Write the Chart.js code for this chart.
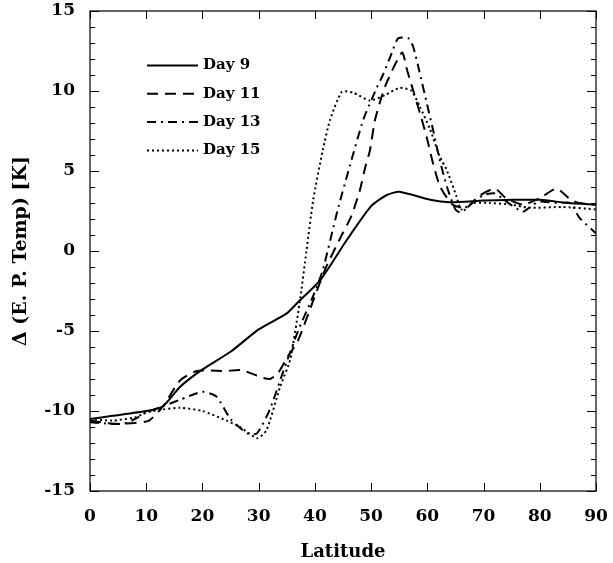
<!DOCTYPE html>
<html>
<head>
<meta charset="utf-8">
<script src="https://cdn.jsdelivr.net/npm/chart.js@4/dist/chart.umd.min.js"></script>
<style>
  body { margin: 0; background: #fff; }
</style>
</head>
<body>
<canvas id="chart" width="613" height="563"></canvas>
<script>
// data (latitude in degrees, delta temp in K)
var seriesNames = ["Day 9", "Day 11", "Day 13", "Day 15"];

var lat9  = [0, 4, 10, 13, 16, 20, 25, 30, 35, 37, 41, 45.7, 50, 52.8, 55, 60.5, 64, 70, 75, 80, 85, 90];
var temp9 = [-10.5, -10.3, -10.0, -9.7, -8.5, -7.4, -6.3, -4.9, -3.9, -3.2, -1.8, 0.7, 2.8, 3.5, 3.7, 3.2, 3.05, 3.15, 3.2, 3.2, 3.0, 2.9];

var lat11  = [0, 4, 8, 10.5, 13, 16, 19, 24, 27, 30.5, 32, 33.5, 35, 37, 39.7, 42, 44.5, 46.5, 48, 49, 49.8, 50.7, 52.5, 55.5, 56.4, 58.7, 59.9, 61, 62.3, 64.5, 67, 69, 72, 74, 77, 80, 83, 85.5, 87, 90];
var temp11 = [-10.6, -10.8, -10.75, -10.6, -9.7, -8.1, -7.5, -7.5, -7.45, -7.9, -8.0, -7.6, -6.7, -5.6, -3.1, -1.0, 0.8, 2.2, 3.8, 5.3, 6.3, 8.2, 10.3, 12.4, 11.3, 8.6, 7.1, 5.5, 4.0, 2.9, 2.7, 3.4, 3.9, 3.3, 2.9, 3.3, 3.9, 3.2, 3.0, 2.9];

var lat13  = [0, 3.6, 6, 8, 10, 13, 16, 20, 22.5, 25, 28, 29.7, 32, 34.3, 37, 39.7, 41.4, 44, 46.2, 48.6, 51, 52.1, 53.7, 54.8, 56.6, 57.5, 58.4, 59.9, 61, 62.2, 63.5, 65, 66, 68, 70, 72, 74, 77, 78.8, 80, 83, 85.5, 87, 90];
var temp13 = [-10.7, -10.8, -10.8, -10.5, -10.1, -9.7, -9.3, -8.8, -9.1, -10.5, -11.4, -11.4, -9.9, -7.6, -5.0, -2.8, -1.2, 2.5, 5.3, 8.2, 10.2, 11.0, 12.4, 13.3, 13.3, 12.75, 11.5, 9.25, 7.6, 5.7, 4.0, 2.6, 2.4, 3.0, 3.5, 3.6, 3.1, 2.45, 2.9, 3.1, 3.0, 3.0, 2.1, 1.1];

var lat15  = [0, 4, 8, 10, 13, 16, 20, 24.3, 26.7, 29.7, 31.4, 33.8, 35.6, 37.3, 38.5, 39.7, 41.4, 42.7, 44.8, 46.8, 49.8, 52.5, 55.1, 57.2, 58.7, 60.5, 62.2, 63.4, 65.2, 66, 68.2, 71, 75, 78, 84, 90];
var temp15 = [-10.5, -10.6, -10.4, -10.1, -9.9, -9.8, -10.0, -10.6, -11.0, -11.7, -11.2, -8.5, -6.8, -3.2, 0, 3.2, 6.3, 8.2, 9.95, 9.9, 9.4, 9.75, 10.2, 10.0, 9.0, 7.6, 5.9, 5.1, 3.4, 2.6, 3.0, 3.0, 2.9, 2.7, 2.75, 2.6];

var xTicks = [0, 10, 20, 30, 40, 50, 60, 70, 80, 90];

function toPoints(xs, ys) {
    var pts = [];
    for (var i = 0; i < xs.length; i++) {
        pts.push({x: xs[i], y: ys[i]});
    }
    return pts;
}

var serif = "'DejaVu Serif', 'Liberation Serif', serif";
var dashes = [[], [11, 7], [9, 5, 2, 5], [2, 3]];
var allLat = [lat9, lat11, lat13, lat15];
var allTemp = [temp9, temp11, temp13, temp15];

var datasets = [];
for (var k = 0; k < seriesNames.length; k++) {
    datasets.push({
        label: seriesNames[k],
        data: toPoints(allLat[k], allTemp[k]),
        borderColor: '#000',
        borderWidth: 2,
        borderDash: dashes[k],
        pointRadius: 0,
        tension: 0.2,
        fill: false
    });
}

// frame, inward ticks and the hand drawn legend
var framePlugin = {
    id: 'frame',
    afterDraw: function(chart) {
        var ctx = chart.ctx;
        var a = chart.chartArea;
        var xs = chart.scales.x, ys = chart.scales.y;
        ctx.save();
        ctx.strokeStyle = '#000';
        ctx.lineWidth = 1.2;
        ctx.strokeRect(a.left, a.top, a.right - a.left, a.bottom - a.top);
        ctx.lineWidth = 1;
        ctx.beginPath();
        for (var v = -15; v <= 15; v++) {
            var py = Math.round(ys.getPixelForValue(v)) + 0.5;
            var len = (v % 5 === 0) ? 9 : 5;
            ctx.moveTo(a.left, py); ctx.lineTo(a.left + len, py);
            ctx.moveTo(a.right, py); ctx.lineTo(a.right - len, py);
        }
        for (var j = 0; j < xTicks.length; j++) {
            var px = Math.round(xs.getPixelForValue(xTicks[j])) + 0.5;
            ctx.moveTo(px, a.bottom); ctx.lineTo(px, a.bottom - 8);
            ctx.moveTo(px, a.top); ctx.lineTo(px, a.top + 8);
        }
        ctx.stroke();

        // legend
        ctx.font = 'bold 15px ' + serif;
        ctx.fillStyle = '#000';
        ctx.textBaseline = 'middle';
        for (var i = 0; i < chart.data.datasets.length; i++) {
            var ds = chart.data.datasets[i];
            var ly = 65.5 + i * 28.3;
            ctx.beginPath();
            ctx.lineWidth = 2;
            ctx.setLineDash(ds.borderDash);
            ctx.moveTo(147, ly);
            ctx.lineTo(198, ly);
            ctx.stroke();
            ctx.setLineDash([]);
            ctx.fillText(ds.label, 203, ly);
        }
        ctx.restore();
    }
};

var ctx = document.getElementById('chart').getContext('2d');
var chart = new Chart(ctx, {
    type: 'line',
    data: { datasets: datasets },
    plugins: [framePlugin],
    options: {
        responsive: false,
        animation: false,
        layout: { padding: { top: 11, right: 17, left: 0, bottom: 0 } },
        plugins: {
            legend: { display: false },
            tooltip: { enabled: false }
        },
        scales: {
            x: {
                type: 'linear',
                min: 0,
                max: 90,
                afterBuildTicks: function(scale) {
                    scale.ticks = xTicks.map(function(v) { return {value: v}; });
                },
                afterFit: function(scale) {
                    scale.height = 72;
                    scale.paddingLeft = 0;
                    scale.paddingRight = 0;
                },
                ticks: { color: '#000', padding: 15, font: { family: serif, size: 17, weight: 'bold' } },
                grid: { display: false, drawTicks: false },
                border: { display: false },
                title: {
                    display: true,
                    text: 'Latitude',
                    color: '#000',
                    font: { family: serif, size: 18, weight: 'bold' },
                    padding: { top: 0, bottom: 0 }
                }
            },
            y: {
                min: -15,
                max: 15,
                afterFit: function(scale) {
                    scale.width = 90;
                    scale.paddingTop = 0;
                    scale.paddingBottom = 0;
                },
                ticks: { stepSize: 5, color: '#000', padding: 15, font: { family: serif, size: 17, weight: 'bold' } },
                grid: { display: false, drawTicks: false },
                border: { display: false },
                title: {
                    display: true,
                    text: 'Δ (E. P. Temp) [K]',
                    color: '#000',
                    font: { family: serif, size: 19, weight: 'bold' },
                    padding: { top: 10, bottom: 0 }
                }
            }
        }
    }
});
</script>
</body>
</html>
